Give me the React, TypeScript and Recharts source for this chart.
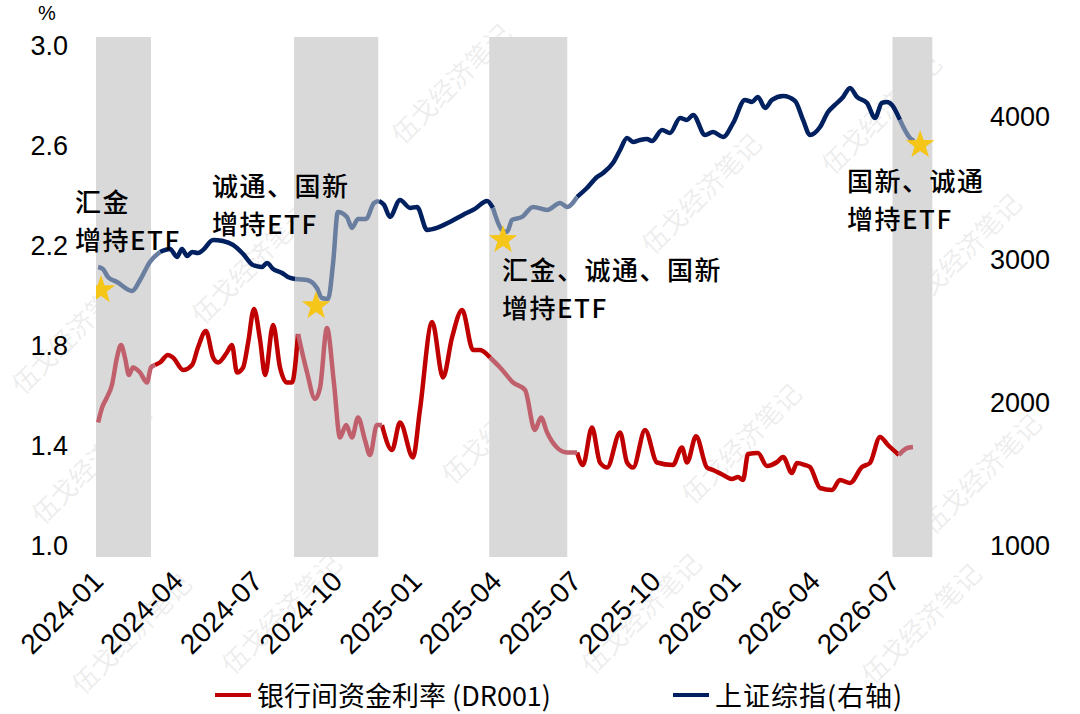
import { ComposedChart, Line, Scatter, XAxis, YAxis, ReferenceArea } from "recharts"

// x values are months since 2024-01
const drMonths = [
  0.08, 0.23, 0.41, 0.6, 0.79, 0.94, 1.09, 1.24, 1.39, 1.66, 1.92, 2.07, 2.22, 2.41, 2.71, 2.9,
  3.28, 3.62, 3.84, 4.14, 4.41, 4.6, 4.93, 5.12, 5.31, 5.54, 5.73, 5.95, 6.18, 6.37, 6.67, 6.93,
  7.19, 7.38, 7.61, 7.95, 8.25, 8.44, 8.7, 8.96, 9.19, 9.42, 9.64, 9.87, 10.13, 10.32, 10.58, 10.77,
  11.15, 11.45, 11.94, 12.2, 12.66, 13.07, 13.41, 13.79, 14.2, 14.46, 14.84, 15.22, 15.71, 16.16,
  16.53, 16.76, 16.99, 17.36, 17.74, 18.12, 18.34, 18.68, 18.98, 19.25, 19.74, 20.0, 20.23, 20.68,
  21.13, 21.73, 22.07, 22.26, 22.6, 23.01, 23.24, 23.62, 23.95, 24.18, 24.37, 24.56, 24.93, 25.27,
  25.65, 25.88, 26.21, 26.4, 26.7, 26.89, 27.27, 27.72, 28.02, 28.4, 28.85, 29.15, 29.53, 29.83,
  30.24, 30.55, 30.77,
]
const drRates = [
  1.49, 1.55, 1.59, 1.64, 1.75, 1.8, 1.75, 1.68, 1.71, 1.69, 1.65, 1.71, 1.72, 1.73, 1.76, 1.75,
  1.7, 1.72, 1.79, 1.856, 1.75, 1.73, 1.77, 1.8, 1.69, 1.71, 1.81, 1.944, 1.82, 1.68, 1.88, 1.71,
  1.65, 1.65, 1.844, 1.69, 1.584, 1.63, 1.868, 1.65, 1.43, 1.48, 1.43, 1.51, 1.42, 1.36, 1.48, 1.48,
  1.38, 1.49, 1.35, 1.54, 1.892, 1.67, 1.83, 1.94, 1.78, 1.78, 1.75, 1.71, 1.65, 1.62,
  1.46, 1.51, 1.45, 1.39, 1.37, 1.37, 1.32, 1.47, 1.33, 1.31, 1.45, 1.33, 1.31, 1.46,
  1.33, 1.32, 1.39, 1.33, 1.435, 1.31, 1.3, 1.28, 1.264, 1.272, 1.26, 1.364, 1.368, 1.316,
  1.332, 1.352, 1.288, 1.328, 1.32, 1.312, 1.228, 1.22, 1.26, 1.248, 1.312, 1.328, 1.432, 1.4,
  1.36, 1.388, 1.392,
]

const sseMonths = [
  0.08, 0.26, 0.45, 0.79, 1.36, 1.66, 2.03, 2.41, 2.79, 3.05, 3.24, 3.43, 3.62, 3.84, 4.03, 4.41,
  4.78, 5.16, 5.54, 5.91, 6.25, 6.44, 6.67, 7.01, 7.23, 7.5, 7.95, 8.32, 8.51, 8.74, 8.93, 9.11,
  9.45, 9.64, 9.87, 10.17, 10.47, 10.66, 10.85, 11.07, 11.45, 11.83, 12.09, 12.47, 12.84, 13.33,
  13.82, 14.27, 14.73, 14.95, 15.29, 15.48, 15.67, 16.05, 16.46, 16.99, 17.48, 17.74, 18.12, 18.49,
  18.87, 19.1, 19.47, 19.74, 20.0, 20.23, 20.49, 20.75, 20.94, 21.32, 21.62, 22.0, 22.26, 22.49,
  22.94, 23.24, 23.62, 24.0, 24.44, 24.71, 24.93, 25.2, 25.46, 25.88, 26.33, 26.63, 26.89, 27.27,
  27.57, 27.83, 28.14, 28.4, 28.66, 29.04, 29.34, 29.6, 29.79, 29.98, 30.28, 30.66, 30.81,
]
const sseIndex = [
  2944, 2930, 2874, 2839, 2776, 2853, 2979, 3049, 3070, 3014, 3070, 3021, 3049, 3042, 3063, 3133,
  3126, 3098, 3035, 2958, 2944, 2972, 2930, 2902, 2874, 2860, 2853, 2797, 2727, 2720, 2972, 3329,
  3294, 3217, 3280, 3280, 3392, 3406, 3378, 3294, 3413, 3357, 3364, 3203, 3217, 3259,
  3308, 3350, 3406, 3357, 3203, 3189, 3273, 3294, 3364, 3343, 3392, 3364, 3434, 3496,
  3573, 3601, 3671, 3762, 3846, 3818, 3832, 3839, 3825, 3902, 3881, 3986, 3972, 4007,
  3867, 3888, 3853, 3951, 4112, 4098, 4133, 4056, 4112, 4140, 4105, 3972, 3867, 3923,
  4028, 4077, 4133, 4196, 4133, 4091, 3986, 4091, 4098, 4077, 3972, 3846, 3825,
]

const starMonths = [0.19, 8.29, 15.33, 31.04]
const starIndex = [2783, 2671, 3133, 3797]

const shadeFrom = [0, 7.46, 14.81, 30]
const shadeTo = [2.07, 10.63, 17.75, 31.5]

const monthTicks = [0, 3, 6, 9, 12, 15, 18, 21, 24, 27, 30]
const rateTicks = [1.0, 1.4, 1.8, 2.2, 2.6, 3.0]
const indexTicks = [1000, 2000, 3000, 4000]

const notes = [
  { lines: ["汇金", "增持ETF"], left: 75, top: 182 },
  { lines: ["诚通、国新", "增持ETF"], left: 212, top: 166 },
  { lines: ["汇金、诚通、国新", "增持ETF"], left: 502, top: 250 },
  { lines: ["国新、诚通", "增持ETF"], left: 847, top: 161 },
]

const marks = [
  [70, 330], [250, 260], [450, 80], [90, 460], [500, 420], [700, 190], [880, 110],
  [960, 250], [740, 440], [980, 470], [280, 610], [640, 610], [920, 620], [130, 630],
]

const inShade = (m: number) => shadeFrom.some((s, i) => m >= s && m <= shadeTo[i])

// split one series into a part inside the grey bands (lighter) and outside
function splitSeries(months: number[], values: number[]) {
  return months.map((m, i) => {
    const inside = inShade(m)
    const edge = i > 0 && inShade(months[i - 1]) !== inside
    return {
      m,
      light: inside || edge ? values[i] : null,
      dark: !inside || edge ? values[i] : null,
    }
  })
}

const drData = splitSeries(drMonths, drRates)
const sseData = splitSeries(sseMonths, sseIndex)
const starData = starMonths.map((m, i) => ({ m, v: starIndex[i] }))

const font = "'Liberation Sans', Arial, sans-serif"
const cjk = "'Noto Sans CJK SC', 'Liberation Sans', sans-serif"

function StarShape(props: any) {
  const { cx, cy } = props
  const pts: string[] = []
  for (let k = 0; k < 10; k++) {
    const r = k % 2 === 0 ? 15 : 6
    const a = -Math.PI / 2 + (k * Math.PI) / 5
    pts.push(`${cx + r * Math.cos(a)},${cy + r * Math.sin(a)}`)
  }
  return <polygon points={pts.join(" ")} fill="#F5C518" />
}

function MonthTick(props: any) {
  const { x, y, payload } = props
  const m = payload.value
  const label = `${2024 + Math.floor(m / 12)}-${String((m % 12) + 1).padStart(2, "0")}`
  const ax = x + 9
  const ay = y + 24
  return (
    <text x={ax} y={ay} transform={`rotate(-45 ${ax} ${ay})`} textAnchor="end" fontSize={28} fontFamily={font} fill="#000">
      {label}
    </text>
  )
}

export default function App() {
  return (
    <div style={{ position: "relative", width: 1080, height: 714, background: "#fff", overflow: "hidden" }}>
      <style>{`body{margin:0}`}</style>
      {marks.map(([l, t], i) => (
        <div
          key={i}
          style={{
            position: "absolute",
            left: l - 80,
            top: t - 16,
            width: 160,
            textAlign: "center",
            transform: "rotate(-45deg)",
            fontFamily: cjk,
            fontSize: 26,
            color: "rgba(140,140,140,0.16)",
            whiteSpace: "nowrap",
          }}
        >
          伍戈经济笔记
        </div>
      ))}
      <ComposedChart width={1080} height={714} margin={{ top: 37, right: 25, bottom: 47, left: 16 }}>
        {shadeFrom.map((s, i) => (
          <ReferenceArea key={i} yAxisId="rate" x1={s} x2={shadeTo[i]} fill="#d9d9d9" fillOpacity={1} stroke="none" />
        ))}
        <XAxis
          dataKey="m"
          type="number"
          domain={[0, 31.6]}
          ticks={monthTicks}
          allowDataOverflow
          axisLine={false}
          tickLine={false}
          tickSize={0}
          height={110}
          tick={<MonthTick />}
          interval={0}
        />
        <YAxis
          yAxisId="rate"
          orientation="left"
          domain={[0.952, 3.032]}
          ticks={rateTicks}
          allowDataOverflow
          width={80}
          axisLine={false}
          tickLine={false}
          tickSize={0}
          tickMargin={28}
          tickFormatter={(v: number) => v.toFixed(1)}
          tick={{ fontSize: 27, fontFamily: font, fill: "#000" }}
        />
        <YAxis
          yAxisId="index"
          orientation="right"
          domain={[916, 4552]}
          ticks={indexTicks}
          allowDataOverflow
          width={120}
          axisLine={false}
          tickLine={false}
          tickSize={0}
          tickMargin={55}
          tick={{ fontSize: 27, fontFamily: font, fill: "#000", textAnchor: "start" }}
        />
        <Line data={drData} yAxisId="rate" dataKey="dark" type="monotone" stroke="#C00000" strokeWidth={4.5} dot={false} isAnimationActive={false} />
        <Line data={drData} yAxisId="rate" dataKey="light" type="monotone" stroke="#c0606c" strokeWidth={4.5} dot={false} isAnimationActive={false} />
        <Line data={sseData} yAxisId="index" dataKey="dark" type="monotone" stroke="#002060" strokeWidth={4.5} dot={false} isAnimationActive={false} />
        <Line data={sseData} yAxisId="index" dataKey="light" type="monotone" stroke="#6a7ea0" strokeWidth={4.5} dot={false} isAnimationActive={false} />
        <Scatter data={starData} yAxisId="index" dataKey="v" shape={<StarShape />} isAnimationActive={false} />
      </ComposedChart>
      <div style={{ position: "absolute", left: 38, top: 2, fontFamily: font, fontSize: 20 }}>%</div>
      {notes.map((n, i) => (
        <div
          key={i}
          style={{
            position: "absolute",
            left: n.left,
            top: n.top,
            fontFamily: cjk,
            fontSize: 26,
            fontWeight: 500,
            letterSpacing: 1.5,
            lineHeight: "38px",
            color: "#000",
            whiteSpace: "nowrap",
          }}
        >
          {n.lines.map((l, j) => (
            <div key={j}>{l}</div>
          ))}
        </div>
      ))}
      <div style={{ position: "absolute", left: 215, top: 675, display: "flex", alignItems: "center", fontFamily: cjk, fontSize: 27, color: "#000" }}>
        <span style={{ display: "inline-block", width: 36, height: 4, background: "#C00000", marginRight: 6 }} />
        <span>银行间资金利率 (DR001)</span>
        <span style={{ display: "inline-block", width: 36, height: 4, background: "#002060", marginLeft: 122, marginRight: 6 }} />
        <span style={{ letterSpacing: 1 }}>上证综指(右轴)</span>
      </div>
    </div>
  )
}
